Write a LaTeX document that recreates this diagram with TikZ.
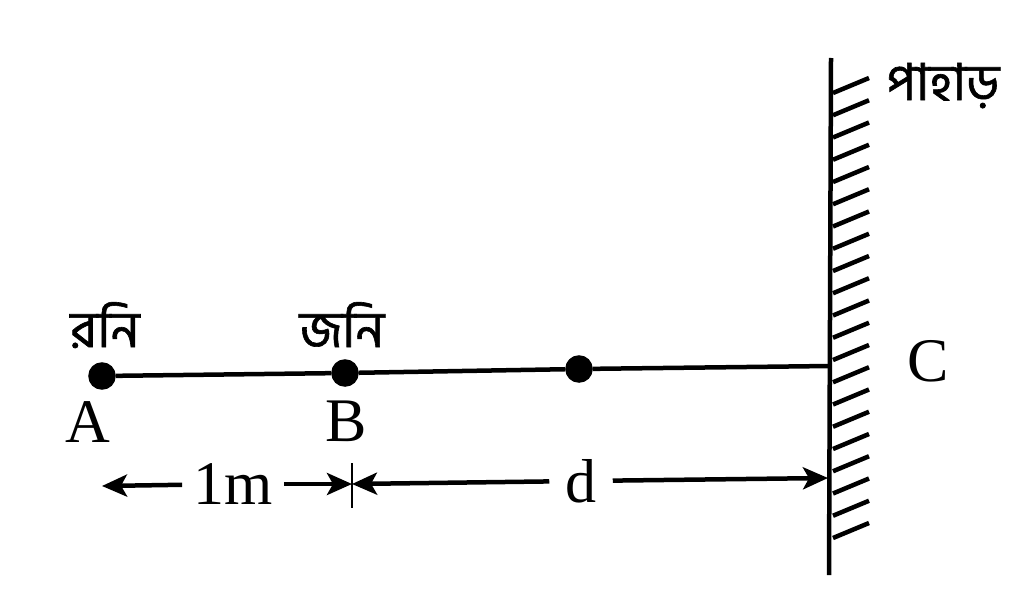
\documentclass[tikz,border=0pt]{standalone}
\usepackage{fontspec}
\setmainfont{Liberation Serif}
\newfontfamily\bnfont[Script=Bengali, FakeBold=1.2]{Hind Siliguri}
\usetikzlibrary{arrows.meta}
\tikzset{
  dot/.style={draw, circle, fill, inner sep=0pt, minimum size=23pt},
  lbl/.style={inner sep=0pt, font=\fontsize{62}{66}\selectfont},
  bn/.style={inner sep=0pt, anchor=base, font=\bnfont\fontsize{51}{56}\selectfont},
  dim/.style={line width=4.5pt, -{Stealth[length=25pt, width=22pt, inset=6pt]}},
}
\begin{document}
\begin{tikzpicture}[x=1pt, y=-1pt, line width=4.5pt]
    \useasboundingbox (0,0) rectangle (1024,591);
    % Nodes
    \node[dot] (A) at (102,376) {};
    \node[dot] (B) at (345,373) {};
    \node[dot] (M) at (579,369) {};
    \coordinate (C) at (830,366);
    \coordinate (wtop) at (831,58);
    \coordinate (wbot) at (829,575);
    \node[lbl] (nA) at (88,422) {A};
    \node[lbl] (nB) at (346,421) {B};
    \node[lbl] (nC) at (928,361) {C};
    \node[bn] (rA) at (105,347) {রনি};
    \node[bn] (rB) at (342,347) {জনি};
    \node[bn] (rC) at (943,100) {পাহাড়};
    % Dimensions
    \coordinate (dA) at (102,486);
    \coordinate (dB) at (352,484);
    \coordinate (dC) at (828,478);
    \coordinate (tB1) at (352,463);
    \coordinate (tB2) at (352,508);
    \node[lbl, inner xsep=9pt] (lm) at (233,484) {1m};
    \node[lbl, inner xsep=14pt] (ld) at (581,481) {d};
    % Edges
    \draw (A) -- (B) -- (M) -- (C);
    \draw (wtop) -- (wbot);
    \foreach \i in {0,...,20}
        \draw (833,93+22.25*\i) -- (869,78+22.25*\i); % hatching
    \draw[dim] (lm) -- (dA);
    \draw[dim] (lm) -- (dB);
    \draw[dim] (ld) -- (dB);
    \draw[dim] (ld) -- (dC);
    \draw[line width=2.5pt] (tB1) -- (tB2);
\end{tikzpicture}
\end{document}
